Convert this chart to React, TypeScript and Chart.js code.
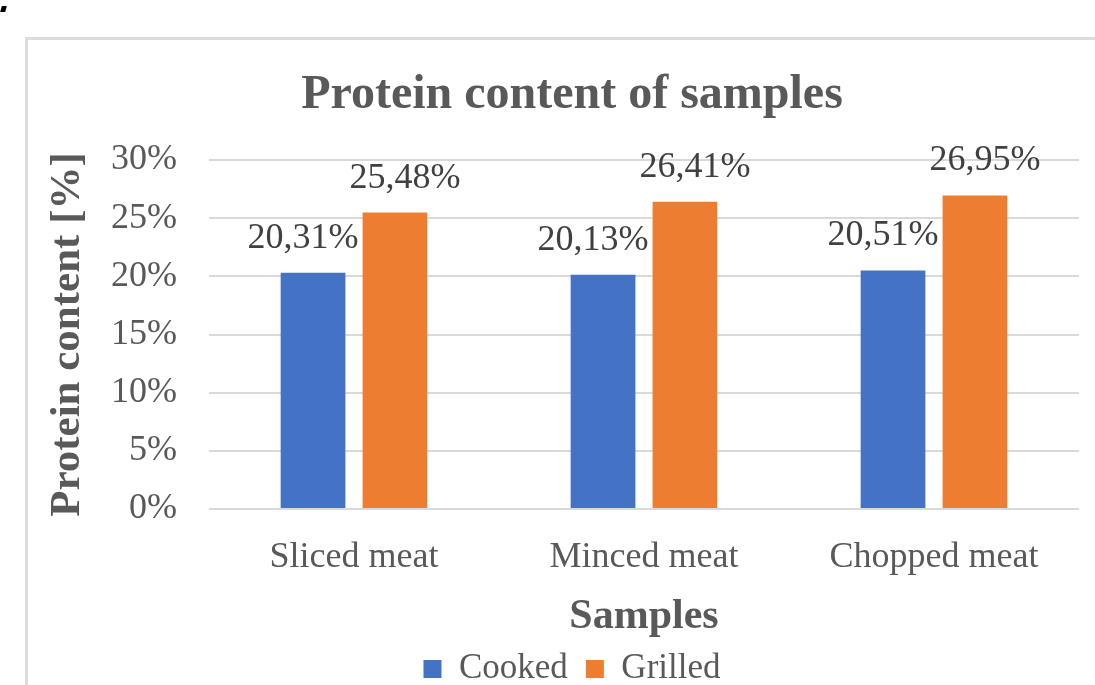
import React, { useEffect, useRef } from "react";
import { Chart, registerables } from "chart.js";

Chart.register(...registerables);

const categories = ["Sliced meat", "Minced meat", "Chopped meat"];
const cookedValues = [20.31, 20.13, 20.51];
const grilledValues = [25.48, 26.41, 26.95];
const seriesNames = ["Cooked", "Grilled"];
const yMin = 0;
const yMax = 30;
const yStep = 5;

const TEXT = "#595959";
const FONT = "'Liberation Serif', 'Times New Roman', serif";

const labelOffsets = [-10, 10];

const dataLabelPlugin = {
  id: "dataLabels",
  afterDatasetsDraw(chart: any) {
    const ctx = chart.ctx;
    ctx.save();
    ctx.font = `36px ${FONT}`;
    ctx.fillStyle = "#404040";
    ctx.textAlign = "center";
    ctx.textBaseline = "alphabetic";
    chart.data.datasets.forEach((ds: any, di: number) => {
      const meta = chart.getDatasetMeta(di);
      meta.data.forEach((bar: any, i: number) => {
        const v = ds.data[i] as number;
        const txt = v.toFixed(2).replace(".", ",") + "%";
        ctx.fillText(txt, bar.x + labelOffsets[di], bar.y - 25);
      });
    });
    ctx.restore();
  },
};

export default function App() {
  const ref = useRef<HTMLCanvasElement | null>(null);
  useEffect(() => {
    if (!ref.current) return;
    const chart = new Chart(ref.current, {
      type: "bar",
      data: {
        labels: categories,
        datasets: [
          {
            label: seriesNames[0],
            data: cookedValues,
            backgroundColor: "#4472C4",
            categoryPercentage: 0.565,
            barPercentage: 0.79,
          },
          {
            label: seriesNames[1],
            data: grilledValues,
            backgroundColor: "#ED7D31",
            categoryPercentage: 0.565,
            barPercentage: 0.79,
          },
        ],
      },
      options: {
        animation: false,
        responsive: true,
        maintainAspectRatio: false,
        layout: { padding: { left: 65, right: 16, top: 0, bottom: 3.5 } },
        plugins: {
          title: {
            display: true,
            text: "Protein content of samples",
            color: TEXT,
            font: { family: FONT, size: 48, weight: "bold" },
            padding: { top: 67, bottom: 35.4 },
          },
          legend: {
            position: "bottom",
            labels: {
              color: TEXT,
              font: { family: FONT, size: 35 },
              boxWidth: 18,
              boxHeight: 18,
              padding: 18,
            },
          },
          tooltip: { enabled: false },
        },
        scales: {
          x: {
            grid: { display: false, drawTicks: false },
            border: { display: false },
            ticks: {
              color: TEXT,
              font: { family: FONT, size: 36 },
              padding: 27,
            },
            title: {
              display: true,
              text: "Samples",
              color: TEXT,
              font: { family: FONT, size: 42, weight: "bold" },
              padding: { top: -14.4, bottom: -8.7 },
            },
          },
          y: {
            min: yMin,
            max: yMax,
            grid: { color: "#d9d9d9", lineWidth: 2, drawTicks: false },
            border: { display: false },
            ticks: {
              stepSize: yStep,
              color: TEXT,
              font: { family: FONT, size: 36 },
              padding: 32,
              callback: (v: any) => `${v}%`,
            },
            title: {
              display: true,
              text: "Protein content [%]",
              color: TEXT,
              font: { family: FONT, size: 43, weight: "bold" },
              padding: { top: -22.8, bottom: -14.8 },
            },
          },
        },
      },
      plugins: [dataLabelPlugin],
    });
    return () => chart.destroy();
  }, []);

  return (
    <div
      style={{
        position: "absolute",
        left: 0,
        top: 0,
        width: 1095,
        height: 685,
        overflow: "hidden",
        background: "#ffffff",
      }}
    >
      <div
        style={{
          position: "absolute",
          left: 1,
          top: 6,
          width: 5,
          height: 6,
          background: "#000",
          transform: "skewX(-15deg)",
        }}
      />
      <div
        style={{
          position: "absolute",
          left: 25,
          top: 37,
          width: 1200,
          height: 800,
          border: "3px solid #dcdcdc",
          boxSizing: "border-box",
        }}
      />
      <div style={{ position: "absolute", left: 0, top: 0, width: 1095, height: 700 }}>
        <canvas ref={ref} />
      </div>
    </div>
  );
}
